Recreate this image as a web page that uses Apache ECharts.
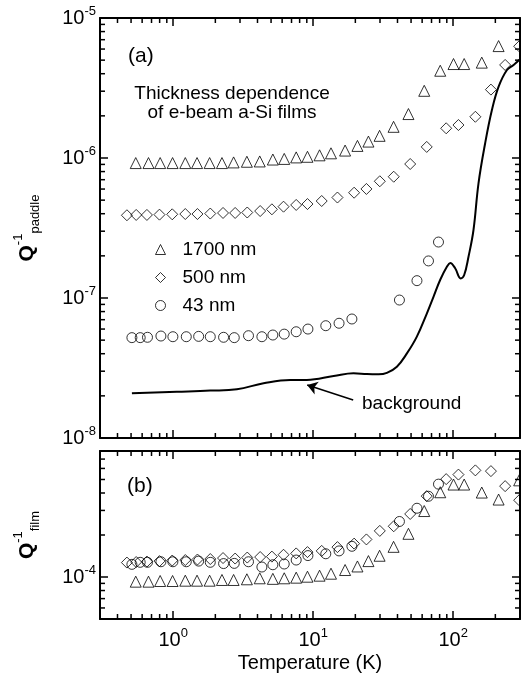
<!DOCTYPE html>
<html>
<head>
<meta charset="utf-8">
<script src="https://cdn.jsdelivr.net/npm/echarts@6/dist/echarts.min.js"></script>
<style>
  html, body { margin: 0; padding: 0; background: #fff; }
  #chart { width: 521px; height: 677px; }
</style>
</head>
<body>
<div id="chart"></div>
<script>
// temperatures (K)
const tTri = [0.54, 0.666, 0.807, 0.99, 1.22, 1.48, 1.82, 2.23, 2.70, 3.36, 4.15, 5.15, 6.21, 7.56, 9.10,
  11.1, 13.4, 16.9, 20.7, 24.8, 29.8, 37.5, 47.9, 62.1, 80.8, 100.5, 119.8, 160, 211, 296]
const tDia = [0.467, 0.544, 0.649, 0.798, 0.984, 1.22, 1.49, 1.84, 2.27, 2.77, 3.38, 4.18, 5.07, 6.14, 7.56,
  9.10, 11.5, 14.9, 19.6, 24.0, 29.9, 37.6, 49.3, 64.7, 89.1, 109, 144, 186, 235, 296]
const tCir = [0.507, 0.581, 0.655, 0.817, 0.995, 1.24, 1.52, 1.84, 2.29, 2.73, 3.45, 4.30, 5.15, 6.21, 7.56,
  9.17, 12.3, 15.3, 18.9, 41.3, 55.1, 66.6, 78.5]

// (a) Q^-1 paddle
const paddle1700 = [9.2e-7, 9.2e-7, 9.2e-7, 9.2e-7, 9.2e-7, 9.2e-7, 9.2e-7, 9.2e-7, 9.3e-7, 9.4e-7, 9.45e-7,
  9.75e-7, 9.85e-7, 1.01e-6, 1.02e-6, 1.045e-6, 1.08e-6, 1.13e-6, 1.22e-6, 1.31e-6, 1.44e-6, 1.67e-6,
  2.06e-6, 3.02e-6, 4.2e-6, 4.69e-6, 4.69e-6, 4.8e-6, 6.3e-6, null]
const paddle500 = [3.90e-7, 3.92e-7, 3.92e-7, 3.94e-7, 3.96e-7, 3.98e-7, 3.98e-7, 4.01e-7, 4.05e-7, 4.05e-7,
  4.08e-7, 4.18e-7, 4.30e-7, 4.49e-7, 4.62e-7, 4.69e-7, 4.93e-7, 5.22e-7, 5.65e-7, 6.01e-7, 6.82e-7,
  7.35e-7, 9.06e-7, 1.2e-6, 1.63e-6, 1.72e-6, 1.97e-6, 3.08e-6, 4.62e-6, 6.28e-6]
const paddle43 = [5.21e-8, 5.21e-8, 5.24e-8, 5.35e-8, 5.29e-8, 5.29e-8, 5.32e-8, 5.29e-8, 5.24e-8, 5.21e-8,
  5.38e-8, 5.29e-8, 5.44e-8, 5.52e-8, 5.74e-8, 6.0e-8, 6.34e-8, 6.6e-8, 7.08e-8, 9.67e-8, 1.33e-7,
  1.84e-7, 2.51e-7]
const tBg = [0.507, 1.06, 1.84, 2.85, 4.42, 6.85, 9.0, 14.0, 19.4, 24.2, 29.3, 33.6, 39.6, 46.7, 55.0, 64.9,
  72.3, 80.8, 90.1, 95.2, 103.3, 113, 119.8, 128.6, 139.6, 151.6, 169, 189, 211, 242, 270, 300]
const qBg = [2.09e-8, 2.14e-8, 2.18e-8, 2.23e-8, 2.46e-8, 2.6e-8, 2.6e-8, 2.77e-8, 2.9e-8, 2.86e-8, 2.85e-8,
  2.92e-8, 3.23e-8, 4.02e-8, 5.3e-8, 7.78e-8, 1.02e-7, 1.35e-7, 1.67e-7, 1.78e-7, 1.63e-7, 1.38e-7,
  1.46e-7, 1.97e-7, 3.06e-7, 6.6e-7, 1.27e-6, 2.2e-6, 3.23e-6, 4.25e-6, 4.62e-6, 5.07e-6]

// (b) Q^-1 film
const film1700 = [9.26e-5, 9.26e-5, 9.36e-5, 9.36e-5, 9.41e-5, 9.41e-5, 9.41e-5, 9.52e-5, 9.52e-5, 9.63e-5,
  9.79e-5, 9.7e-5, 9.79e-5, 9.89e-5, 1.005e-4, 1.022e-4, 1.056e-4, 1.122e-4, 1.19e-4, 1.30e-4, 1.42e-4,
  1.645e-4, 2.04e-4, 2.97e-4, 4.05e-4, 4.6e-4, 4.6e-4, 4.03e-4, 3.59e-4, 4.93e-4]
const film500 = [1.269e-4, 1.28e-4, 1.29e-4, 1.30e-4, 1.312e-4, 1.323e-4, 1.334e-4, 1.345e-4, 1.367e-4,
  1.356e-4, 1.378e-4, 1.39e-4, 1.40e-4, 1.443e-4, 1.476e-4, 1.508e-4, 1.538e-4, 1.638e-4, 1.735e-4,
  1.859e-4, 2.14e-4, 2.31e-4, 2.83e-4, 3.8e-4, 5.03e-4, 5.42e-4, 5.81e-4, 5.74e-4, 4.48e-4, 3.55e-4]
const film43 = [1.232e-4, 1.274e-4, 1.274e-4, 1.286e-4, 1.286e-4, 1.286e-4, 1.30e-4, 1.274e-4, 1.248e-4,
  1.252e-4, 1.286e-4, 1.179e-4, 1.224e-4, 1.239e-4, 1.323e-4, 1.424e-4, 1.467e-4, 1.538e-4, 1.66e-4,
  2.5e-4, 3.11e-4, 3.79e-4, 4.63e-4]

// minor tick positions
const xMinor = [0.4, 0.5, 0.6, 0.7, 0.8, 0.9, 2, 3, 4, 5, 6, 7, 8, 9, 20, 30, 40, 50, 60, 70, 80, 90, 200]
const yMinorA = [2e-8, 3e-8, 4e-8, 5e-8, 6e-8, 7e-8, 8e-8, 9e-8, 2e-7, 3e-7, 4e-7, 5e-7, 6e-7, 7e-7, 8e-7, 9e-7,
  2e-6, 3e-6, 4e-6, 5e-6, 6e-6, 7e-6, 8e-6, 9e-6]
const yMinorB = [6e-5, 7e-5, 8e-5, 9e-5, 2e-4, 3e-4, 4e-4, 5e-4, 6e-4, 7e-4]

const names = ['1700 nm', '500 nm', '43 nm']
const font = '"Liberation Sans", Arial, Helvetica, sans-serif'

const zip = (xs, ys) => xs.map((x, i) => [x, ys[i]]).filter(d => d[1] != null)

const powLabel = v => '10{s|' + Math.round(Math.log10(v)) + '}'
const supRich = { s: { fontSize: 13, verticalAlign: 'top', lineHeight: 13, fontFamily: font, color: '#000' } }

function xAxes(gridIndex, showLabels) {
  const base = {
    type: 'log', logBase: 10, min: 0.3, max: 300, gridIndex,
    axisLine: { show: true, onZero: false, lineStyle: { color: '#000', width: 2 } },
    axisTick: { show: true, inside: true, length: 8, lineStyle: { color: '#000', width: 1.5 } },
    splitLine: { show: false }
  }
  return [
    Object.assign({}, base, {
      position: 'bottom',
      name: showLabels ? 'Temperature (K)' : '',
      nameLocation: 'middle', nameGap: 34,
      nameTextStyle: { fontSize: 20, color: '#000', fontFamily: font },
      axisLabel: {
        show: showLabels, formatter: powLabel, rich: supRich, fontSize: 20, lineHeight: 26,
        color: '#000', fontFamily: font, margin: 8, showMinLabel: false, showMaxLabel: false
      }
    }),
    Object.assign({}, base, { position: 'top', axisLabel: { show: false } })
  ]
}

function yAxes(gridIndex, min, max, name) {
  const base = {
    type: 'log', logBase: 10, min, max, gridIndex,
    axisLine: { show: true, onZero: false, lineStyle: { color: '#000', width: 2 } },
    axisTick: { show: true, inside: true, length: 8, lineStyle: { color: '#000', width: 1.5 } },
    splitLine: { show: false }
  }
  const edgesArePowers = gridIndex === 0
  return [
    Object.assign({}, base, {
      position: 'left',
      name, nameLocation: 'middle', nameRotate: 90, nameGap: 58,
      nameTextStyle: {
        color: '#000', fontFamily: font,
        rich: {
          q: { fontSize: 21, fontWeight: 'bold', lineHeight: 30, fontFamily: font, color: '#000' },
          sup: { fontSize: 13, verticalAlign: 'top', lineHeight: 13, fontFamily: font, color: '#000' },
          sub: { fontSize: 13, verticalAlign: 'bottom', lineHeight: 13, fontFamily: font, color: '#000' }
        }
      },
      axisLabel: {
        formatter: powLabel, rich: supRich, fontSize: 20, lineHeight: 26, color: '#000',
        fontFamily: font, margin: 4, showMinLabel: edgesArePowers, showMaxLabel: edgesArePowers
      }
    }),
    Object.assign({}, base, { position: 'right', axisLabel: { show: false } })
  ]
}

function minorTicks(grid, dir, values, other) {
  return {
    type: 'custom', xAxisIndex: grid * 2, yAxisIndex: grid * 2, silent: true, clip: false, z: 5,
    data: values.map(v => (dir === 'x' ? [v, other] : [other, v])),
    renderItem(params, api) {
      const cs = params.coordSys
      const p = api.coord([api.value(0), api.value(1)])
      const style = { stroke: '#000', lineWidth: 1.5 }
      const len = 5
      if (dir === 'x') {
        const yb = cs.y + cs.height
        return { type: 'group', children: [
          { type: 'line', shape: { x1: p[0], y1: yb, x2: p[0], y2: yb - len }, style },
          { type: 'line', shape: { x1: p[0], y1: cs.y, x2: p[0], y2: cs.y + len }, style }
        ] }
      }
      const xr = cs.x + cs.width
      return { type: 'group', children: [
        { type: 'line', shape: { x1: cs.x, y1: p[1], x2: cs.x + len, y2: p[1] }, style },
        { type: 'line', shape: { x1: xr, y1: p[1], x2: xr - len, y2: p[1] }, style }
      ] }
    }
  }
}

function scatter(name, grid, symbol, size, data) {
  return {
    type: 'scatter', name, xAxisIndex: grid * 2, yAxisIndex: grid * 2,
    symbol, symbolSize: size, data, z: 3,
    itemStyle: { color: 'rgba(0,0,0,0)', borderColor: '#000', borderWidth: 1 },
    emphasis: { disabled: true }
  }
}

const chart = echarts.init(document.getElementById('chart'), null, { renderer: 'canvas' })

chart.setOption({
  backgroundColor: '#fff',
  animation: false,
  textStyle: { fontFamily: font },
  grid: [
    { left: 100, top: 18, width: 420, height: 420 },
    { left: 100, top: 451, width: 420, height: 168 }
  ],
  xAxis: [...xAxes(0, false), ...xAxes(1, true)],
  yAxis: [
    ...yAxes(0, 1e-8, 1e-5, '{q|Q}{sup|-1}{sub|paddle}'),
    ...yAxes(1, 5e-5, 8e-4, '{q|Q}{sup|-1}{sub|film}')
  ],
  legend: {
    data: names, orient: 'vertical', left: 150, top: 235,
    itemWidth: 10, itemHeight: 10, itemGap: 9,
    itemStyle: { color: 'rgba(0,0,0,0)', borderColor: '#000', borderWidth: 1 },
    textStyle: { fontSize: 19, color: '#000', fontFamily: font, padding: [0, 0, 0, 12] },
    selectedMode: false
  },
  graphic: [
    { type: 'text', left: 128, top: 46, style: { text: '(a)', fontSize: 21, fill: '#000', fontFamily: font } },
    { type: 'text', left: 127, top: 476, style: { text: '(b)', fontSize: 21, fill: '#000', fontFamily: font } },
    { type: 'text', x: 232, y: 84, style: { text: 'Thickness dependence\nof e-beam a-Si films', fontSize: 19,
      lineHeight: 19, align: 'center', fill: '#000', fontFamily: font } },
    { type: 'text', x: 362, y: 394, style: { text: 'background', fontSize: 19, fill: '#000', fontFamily: font } }
  ],
  series: [
    {
      type: 'line', name: 'background', xAxisIndex: 0, yAxisIndex: 0, data: zip(tBg, qBg),
      smooth: 0.4, showSymbol: false, z: 2,
      lineStyle: { color: '#000', width: 2 },
      markLine: {
        silent: true, symbol: ['none', 'arrow'], symbolSize: 10,
        lineStyle: { color: '#000', width: 1.5, type: 'solid' }, label: { show: false },
        emphasis: { disabled: true },
        data: [[{ coord: [19.3, 1.87e-8] }, { coord: [9.06, 2.39e-8] }]]
      }
    },
    scatter(names[0], 0, 'triangle', 11, zip(tTri, paddle1700)),
    scatter(names[1], 0, 'diamond', 11, zip(tDia, paddle500)),
    scatter(names[2], 0, 'circle', 10, zip(tCir, paddle43)),
    scatter(names[0], 1, 'triangle', 11, zip(tTri, film1700)),
    scatter(names[1], 1, 'diamond', 11, zip(tDia, film500)),
    scatter(names[2], 1, 'circle', 10, zip(tCir, film43)),
    minorTicks(0, 'x', xMinor, 1e-8),
    minorTicks(0, 'y', yMinorA, 0.3),
    minorTicks(1, 'x', xMinor, 5e-5),
    minorTicks(1, 'y', yMinorB, 0.3)
  ]
})

window.addEventListener('resize', () => chart.resize())
</script>
</body>
</html>
